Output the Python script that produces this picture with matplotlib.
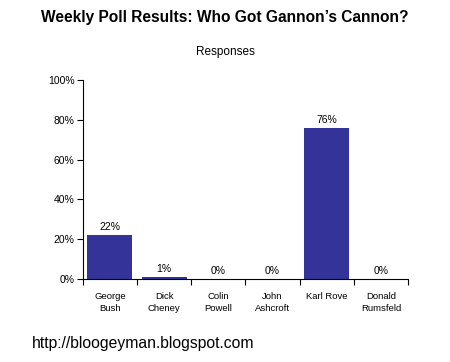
import matplotlib
matplotlib.use("Agg")
import matplotlib.pyplot as plt
from matplotlib.ticker import FixedLocator

plt.rcParams['font.family'] = ['Liberation Sans', 'DejaVu Sans']

names = ["George\nBush", "Dick\nCheney", "Colin\nPowell", "John\nAshcroft",
         "Karl Rove", "Donald\nRumsfeld"]
shares = [22, 1, 0, 0, 76, 0]
yticks = [0, 20, 40, 60, 80, 100]

fig = plt.figure(figsize=(4.5, 3.62), dpi=100)
ax = fig.add_axes([0.184, 0.229, 0.723, 0.550])

x = range(len(names))
ax.bar(x, shares, width=0.83, color="#333399")
for xi, v in zip(x, shares):
    ax.text(xi, v + 1.5, f"{v}%", ha="center", va="bottom", fontsize=7.5)

ax.set_xlim(-0.5, len(names) - 0.5)
ax.set_ylim(0, 100)
ax.set_yticks(yticks)
ax.set_yticklabels([f"{t}%" for t in yticks], fontsize=7.5)
ax.yaxis.set_tick_params(length=4, width=0.8, pad=2)

# category labels centred, tick marks between categories
ax.set_xticks(list(x))
ax.set_xticklabels(names, fontsize=6.8, linespacing=1.55)
ax.xaxis.set_tick_params(length=0, pad=9)
ax.xaxis.set_minor_locator(FixedLocator([i - 0.5 for i in range(len(names) + 1)]))
ax.xaxis.set_tick_params(which="minor", length=4, width=0.8, direction="out")

for s in ["top", "right"]:
    ax.spines[s].set_visible(False)
for s in ["left", "bottom"]:
    ax.spines[s].set_linewidth(0.8)

fig.text(0.5, 0.953, "Weekly Poll Results: Who Got Gannon\u2019s Cannon?",
         ha="center", va="center", fontsize=11.2, fontweight="bold")
fig.text(0.5, 0.857, "Responses", ha="center", va="center", fontsize=8.5)
fig.text(0.071, 0.05, "http://bloogeyman.blogspot.com", ha="left", va="center",
         fontsize=11.3)

fig.savefig("out.png", dpi=100)
